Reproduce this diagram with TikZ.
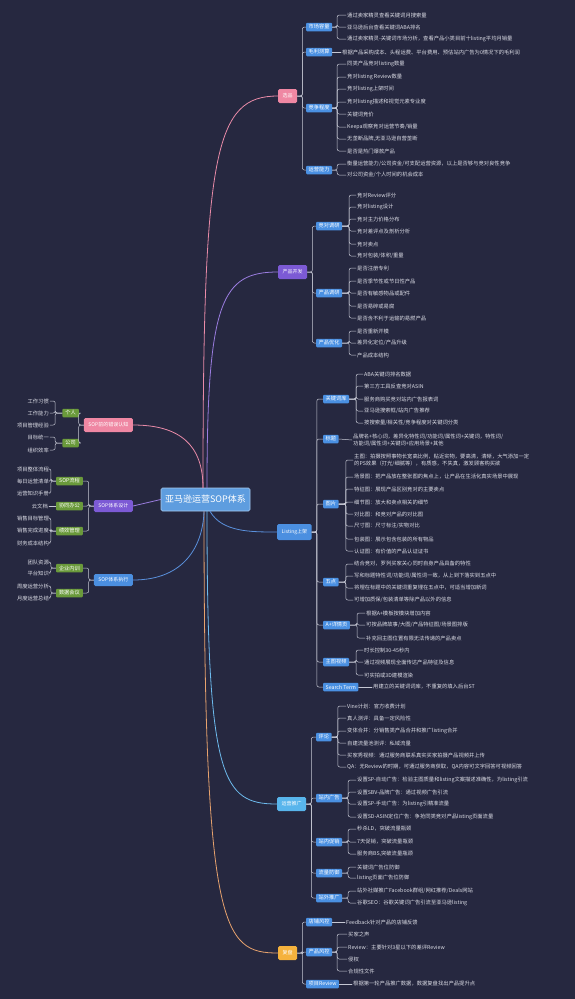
\documentclass[tikz,border=0pt]{standalone}
\usepackage{fontspec}
\setmainfont{Noto Sans CJK SC}
\definecolor{bgnavy}{HTML}{262840}
\definecolor{rootblue}{HTML}{5E9DDF}
\definecolor{rootedge}{HTML}{A8CBEF}
\definecolor{pinkbox}{HTML}{EF87A3}
\definecolor{purplebox}{HTML}{7C5AD5}
\definecolor{bluebox}{HTML}{4B8FE0}
\definecolor{cyanbox}{HTML}{58B5EC}
\definecolor{orangebox}{HTML}{F5B23D}
\definecolor{subblue}{HTML}{4A90E2}
\definecolor{subgreen}{HTML}{6A9A3B}
\definecolor{leaftext}{HTML}{DCDDE6}
\definecolor{linegray}{HTML}{C6C8D4}
\definecolor{pinkline}{HTML}{E98BA8}
\definecolor{purpleline}{HTML}{9B7DE0}
\definecolor{blueline}{HTML}{5A90DC}
\definecolor{cyanline}{HTML}{6DBBEE}
\definecolor{orangeline}{HTML}{E7A26E}
\tikzset{
  every picture/.style={line join=round, line cap=round},
  rootbox/.style={fill=rootblue, draw=rootedge, line width=0.6pt, rounded corners=1.5pt,
    text=white, font=\fontsize{9}{10}\selectfont, minimum width=89pt, minimum height=23pt},
  mainbox/.style={rounded corners=1.5pt, text=white, font=\fontsize{5}{6}\selectfont,
    inner xsep=4.5pt, inner ysep=0pt, minimum height=14pt},
  subbox/.style={rounded corners=1pt, fill=subblue, text=white, font=\fontsize{5.2}{6}\selectfont,
    inner xsep=2.5pt, inner ysep=0pt, minimum height=8.5pt, anchor=west},
  greenbox/.style={subbox, fill=subgreen, inner xsep=3pt, anchor=east},
  leaf/.style={text=leaftext, font=\fontsize{5.3}{6.6}\selectfont, inner sep=1pt, anchor=west},
  leafl/.style={leaf, anchor=east},
  brace/.style={draw=linegray, line width=0.5pt, rounded corners=2pt},
  trunk/.style={line width=0.8pt},
}

\begin{document}
\begin{tikzpicture}[x=1pt,y=-1pt]
\fill[bgnavy] (0,0) rectangle (575,999);
\useasboundingbox (0,0) rectangle (575,999);

% root
\node[rootbox] (root) at (205.5,499.5) {亚马逊运营SOP体系};

% level one, right
\node[mainbox, fill=pinkbox, anchor=west] (xp) at (278,96) {选品};
\node[mainbox, fill=purplebox, anchor=west] (kf) at (278,272) {产品开发};
\node[mainbox, fill=bluebox, anchor=west, minimum height=16pt] (ls) at (277,532) {Listing上架};
\node[mainbox, fill=cyanbox, anchor=west] (tg) at (277,804) {运营推广};
\node[mainbox, fill=orangebox, anchor=west] (fp) at (278,953) {复盘};

% level one, left
\node[mainbox, fill=pinkbox, anchor=east] (cz) at (133,425) {SOP前的错误认知};
\node[mainbox, fill=purplebox, anchor=east, minimum height=12pt] (sj) at (133,506) {SOP体系设计};
\node[mainbox, fill=bluebox, anchor=east, minimum height=12pt] (zx) at (133,580) {SOP体系执行};

% trunks
\draw[trunk, pinkline] ([xshift=-2.5pt]root.north) .. controls (203,150) and (215,96) .. (xp.west);
\draw[trunk, purpleline] ([xshift=1.5pt]root.north) .. controls (207,300) and (222,272) .. (kf.west);
\draw[trunk, blueline] ([xshift=4.5pt]root.south) .. controls (222,532) and (250,532) .. (ls.west);
\draw[trunk, cyanline] ([xshift=1.5pt]root.south) .. controls (207,780) and (222,804) .. (tg.west);
\draw[trunk, orangeline] ([xshift=-1.5pt]root.south) .. controls (204,930) and (222,953) .. (fp.west);
\draw[trunk, pinkline] ([xshift=-2.5pt]root.north) .. controls (203,445) and (180,425) .. (cz.east);
\draw[trunk, purpleline] (root.west) -- (sj.east);
\draw[trunk, blueline] ([xshift=-1.5pt]root.south) .. controls (203,545) and (185,580) .. (zx.east);

% 选品
\node[subbox] (xp1) at (306,27) {市场容量};
\node[subbox] (xp2) at (306,52) {毛利测算};
\node[subbox] (xp3) at (306,108) {竞争程度};
\node[subbox] (xp4) at (306,170) {运营能力};
\foreach \k in {1,...,4}{\draw[brace] (xp.east) -- ++(5,0) |- (xp\k.west);}
\foreach \yy/\txt [count=\i] in {15/{通过卖家精灵查看关键词月搜索量}, 27/{亚马逊后台查看关键词ABA排名},
  39/{通过卖家精灵-关键词市场分析，查看产品小类目前十listing平均月销量}}{
  \node[leaf] (xp1\i) at (346,\yy) {\txt};
  \draw[brace] (xp1.east) -- ++(5,0) |- (xp1\i.west);
}
\node[leaf] (xp21) at (341,52) {根据产品采购成本、头程运费、平台费用、预估站内广告为0情况下的毛利润};
\draw[brace] (xp2.east) -- (xp21.west);
\foreach \yy/\txt [count=\i] in {64/{同类产品竞对listing数量}, 77/{竞对listing Review数量}, 89/{竞对listing上架时间},
  102/{竞对listing描述和视觉元素专业度}, 114/{关键词竞价}, 127/{Keepa观察竞对运营节奏/销量},
  139/{无垄断品牌,无亚马逊自营垄断}, 151/{是否是热门爆款产品}}{
  \node[leaf] (xp3\i) at (346,\yy) {\txt};
  \draw[brace] (xp3.east) -- ++(5,0) |- (xp3\i.west);
}
\foreach \yy/\txt [count=\i] in {164/{衡量运营能力/公司资金/可支配运营资源，以上是否够与竞对良性竞争},
  175/{对公司资金/个人时间的机会成本}}{
  \node[leaf] (xp4\i) at (346,\yy) {\txt};
  \draw[brace] (xp4.east) -- ++(5,0) |- (xp4\i.west);
}

% 产品开发
\node[subbox] (kf1) at (316,226) {竞对调研};
\node[subbox] (kf2) at (316,293) {产品调研};
\node[subbox] (kf3) at (316,343) {产品优化};
\foreach \k in {1,...,3}{\draw[brace] (kf.east) -- ++(5,0) |- (kf\k.west);}
\foreach \yy/\txt [count=\i] in {195/{竞对Review评分}, 207/{竞对listing设计}, 219/{竞对主力价格分布},
  231/{竞对差评点及剖析分析}, 244/{竞对卖点}, 256/{竞对包装/体积/重量}}{
  \node[leaf] (kf1\i) at (356,\yy) {\txt};
  \draw[brace] (kf1.east) -- ++(7,0) |- (kf1\i.west);
}
\foreach \yy/\txt [count=\i] in {268/{是否注册专利}, 281/{是否季节性或节日性产品}, 293/{是否有敏感物品或配件},
  306/{是否易碎或易腐}, 318/{是否含不利于运输的易燃产品}}{
  \node[leaf] (kf2\i) at (356,\yy) {\txt};
  \draw[brace] (kf2.east) -- ++(7,0) |- (kf2\i.west);
}
\foreach \yy/\txt [count=\i] in {331/{是否重新开模}, 343/{差异化定位/产品升级}, 355/{产品成本结构}}{
  \node[leaf] (kf3\i) at (356,\yy) {\txt};
  \draw[brace] (kf3.east) -- ++(7,0) |- (kf3\i.west);
}

% Listing上架
\node[subbox] (ls1) at (323,399) {关键词库};
\node[subbox] (ls2) at (323,439) {标题};
\node[subbox] (ls3) at (323,504) {图片};
\node[subbox] (ls4) at (323,582) {五点};
\node[subbox] (ls5) at (323,625) {A+详情页};
\node[subbox] (ls6) at (323,662) {主图视频};
\node[subbox] (ls7) at (323,687) {Search Term};
\foreach \k in {1,...,7}{\draw[brace] (ls.east) -- ++(5,0) |- (ls\k.west);}
\foreach \yy/\txt [count=\i] in {374/{ABA关键词排名数据}, 386/{第三方工具反查竞对ASIN}, 399/{服务商购买竞对站内广告报表词},
  411/{亚马逊搜索框/站内广告推荐}, 423/{按搜索量/相关性/竞争程度对关键词分类}}{
  \node[leaf] (ls1\i) at (363,\yy) {\txt};
  \draw[brace] (ls1.east) -- ++(7,0) |- (ls1\i.west);
}
\node[leaf, align=left] (ls21) at (352,440) {品牌名+核心词，差异化特性词/功能词/属性词+关键词，特性词/\\功能词/属性词+关键词+应用场景+其他};
\draw[brace] (ls2.east) -- (ls21.west);
\node[leaf, align=left] (ls30) at (353,460) {主图：拍摄按照事物长宽高比例，贴近实物，要高清，清晰，大气添加一定\\的PS效果（打光/细腻等），有质感，不失真，激发顾客购买欲};
\draw[brace] (ls3.east) -- ++(7,0) |- (ls30.west);
\foreach \yy/\txt [count=\i] in {477/{场景图：把产品放在整张图的焦点上，让产品在生活化真实场景中展现},
  489/{特征图：展现产品区别竞对的主要卖点}, 502/{细节图：放大和卖点相关的细节}, 514/{对比图：和竞对产品的对比图},
  526/{尺寸图：尺寸标注/实物对比}, 539/{包装图：展示包含包装的所有物品}, 551/{认证图：有价值的产品认证证书}}{
  \node[leaf] (ls3\i) at (353,\yy) {\txt};
  \draw[brace] (ls3.east) -- ++(7,0) |- (ls3\i.west);
}
\foreach \yy/\txt [count=\i] in {564/{结合竞对，罗列买家关心同时自身产品具备的特性},
  576/{写和标题特性词/功能词/属性词一致，从上到下落实到五点中},
  588/{将埋在标题中的关键词重复埋在五点中，可适当增加新词}, 600/{可增加质保/包装清单等除产品以外的信息}}{
  \node[leaf] (ls4\i) at (353,\yy) {\txt};
  \draw[brace] (ls4.east) -- ++(7,0) |- (ls4\i.west);
}
\foreach \yy/\txt [count=\i] in {613/{根据A+模板按模块增加内容}, 625/{可按品牌故事/大图/产品特征图/场景图排版},
  638/{补充回主图位置有限无法传递的产品卖点}}{
  \node[leaf] (ls5\i) at (365,\yy) {\txt};
  \draw[brace] (ls5.east) -- ++(7,0) |- (ls5\i.west);
}
\foreach \yy/\txt [count=\i] in {650/{时长控制30-45秒内}, 662/{通过视频展现全面传达产品特征及信息}, 675/{可实拍或3D建模渲染}}{
  \node[leaf] (ls6\i) at (363,\yy) {\txt};
  \draw[brace] (ls6.east) -- ++(7,0) |- (ls6\i.west);
}
\node[leaf] (ls71) at (372,687) {用建立的关键词词库，不重复的填入后台ST};
\draw[brace] (ls7.east) -- (ls71.west);

% 运营推广
\node[subbox] (tg1) at (316,737) {评论};
\node[subbox] (tg2) at (316,798) {站内广告};
\node[subbox] (tg3) at (316,842) {站内促销};
\node[subbox] (tg4) at (316,873) {流量防御};
\node[subbox] (tg5) at (316,898) {站外推广};
\foreach \k in {1,...,5}{\draw[brace] (tg.east) -- ++(5,0) |- (tg\k.west);}
\foreach \yy/\txt [count=\i] in {706/{Vine计划：官方收费计划}, 718/{真人测评：具备一定风险性},
  731/{变体合并：分销售类产品合并和推广listing合并}, 743/{自建流量池测评：私域流量},
  755/{买家秀视频：通过服务商联系真实买家拍摄产品视频并上传},
  767/{QA：无Review的时期，可通过服务商获取，QA内容可文字回答可视频回答}}{
  \node[leaf] (tg1\i) at (346,\yy) {\txt};
  \draw[brace] (tg1.east) -- ++(6,0) |- (tg1\i.west);
}
\foreach \yy/\txt [count=\i] in {780/{设置SP-自动广告：检验主图质量和listing文案描述准确性，为listing引流},
  792/{设置SBV-品牌广告：通过视频广告引流}, 804/{设置SP-手动广告：为listing引精准流量},
  817/{设置SD-ASIN定位广告：争抢同类竞对产品listing页面流量}}{
  \node[leaf] (tg2\i) at (356,\yy) {\txt};
  \draw[brace] (tg2.east) -- ++(6,0) |- (tg2\i.west);
}
\foreach \yy/\txt [count=\i] in {829/{秒杀LD，突破流量瓶颈}, 842/{7天促销，突破流量瓶颈}, 854/{服务商BS,突破流量瓶颈}}{
  \node[leaf] (tg3\i) at (356,\yy) {\txt};
  \draw[brace] (tg3.east) -- ++(6,0) |- (tg3\i.west);
}
\foreach \yy/\txt [count=\i] in {867/{关键词广告位防御}, 878/{listing页面广告位防御}}{
  \node[leaf] (tg4\i) at (356,\yy) {\txt};
  \draw[brace] (tg4.east) -- ++(6,0) |- (tg4\i.west);
}
\foreach \yy/\txt [count=\i] in {891/{站外社媒推广Facebook群组/网红推荐/Deals网站}, 903/{谷歌SEO：谷歌关键词广告引流至亚马逊listing}}{
  \node[leaf] (tg5\i) at (356,\yy) {\txt};
  \draw[brace] (tg5.east) -- ++(6,0) |- (tg5\i.west);
}

% 复盘
\node[subbox] (fp1) at (306,922) {店铺风控};
\node[subbox] (fp2) at (306,952) {产品风控};
\node[subbox] (fp3) at (306,984) {项目Review};
\foreach \k in {1,...,3}{\draw[brace] (fp.east) -- ++(5,0) |- (fp\k.west);}
\node[leaf] (fp11) at (345,922) {Feedback针对产品的店铺反馈};
\draw[brace] (fp1.east) -- (fp11.west);
\foreach \yy/\txt [count=\i] in {934/{买家之声}, 947/{Review：主要针对3星以下的差评Review}, 959/{侵权}, 971/{合规性文件}}{
  \node[leaf] (fp2\i) at (347,\yy) {\txt};
  \draw[brace] (fp2.east) -- ++(5,0) |- (fp2\i.west);
}
\node[leaf] (fp31) at (352,984) {根据第一轮产品推广数据，数据复盘找出产品提升点};
\draw[brace] (fp3.east) -- (fp31.west);

% SOP前的错误认知
\node[greenbox] (cz1) at (79,413) {个人};
\node[greenbox] (cz2) at (79,443) {公司};
\foreach \k in {1,2}{\draw[brace] (cz.west) -- ++(-5,0) |- (cz\k.east);}
\foreach \yy/\txt [count=\i] in {401/{工作习惯}, 413/{工作能力}, 425/{项目管理经验}}{
  \node[leafl] (cz1\i) at (50,\yy) {\txt};
  \draw[brace] (cz1.west) -- ++(-7,0) |- (cz1\i.east);
}
\foreach \yy/\txt [count=\i] in {437/{目标统一}, 450/{组织效率}}{
  \node[leafl] (cz2\i) at (50,\yy) {\txt};
  \draw[brace] (cz2.west) -- ++(-7,0) |- (cz2\i.east);
}

% SOP体系设计
\node[greenbox] (sj1) at (83,481) {SOP流程};
\node[greenbox] (sj2) at (83,506) {协同办公};
\node[greenbox] (sj3) at (83,531) {绩效管理};
\foreach \k in {1,...,3}{\draw[brace] (sj.west) -- ++(-5,0) |- (sj\k.east);}
\foreach \yy/\txt [count=\i] in {469/{项目整体流程}, 481/{每日运营清单}, 493/{运营知识手册}}{
  \node[leafl] (sj1\i) at (50,\yy) {\txt};
  \draw[brace] (sj1.west) -- ++(-5,0) |- (sj1\i.east);
}
\node[leafl] (sj21) at (49,506) {云文档};
\draw[brace] (sj2.west) -- (sj21.east);
\foreach \yy/\txt [count=\i] in {518/{销售目标管理}, 530/{销售完成进度}, 543/{财务成本结构}}{
  \node[leafl] (sj3\i) at (50,\yy) {\txt};
  \draw[brace] (sj3.west) -- ++(-5,0) |- (sj3\i.east);
}

% SOP体系执行
\node[greenbox] (zx1) at (83,568) {企业内训};
\node[greenbox] (zx2) at (83,593) {数据会议};
\foreach \k in {1,2}{\draw[brace] (zx.west) -- ++(-5,0) |- (zx\k.east);}
\foreach \yy/\txt [count=\i] in {562/{团队资源}, 573/{平台知识}}{
  \node[leafl] (zx1\i) at (50,\yy) {\txt};
  \draw[brace] (zx1.west) -- ++(-5,0) |- (zx1\i.east);
}
\foreach \yy/\txt [count=\i] in {586/{周度运营分析}, 598/{月度运营总结}}{
  \node[leafl] (zx2\i) at (50,\yy) {\txt};
  \draw[brace] (zx2.west) -- ++(-5,0) |- (zx2\i.east);
}
\end{tikzpicture}
\end{document}
